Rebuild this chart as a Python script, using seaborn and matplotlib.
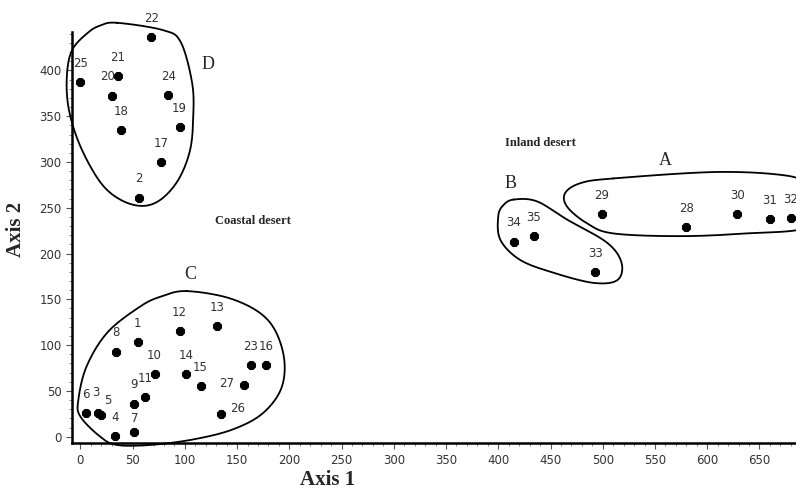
import numpy as np
import pandas as pd
import matplotlib
matplotlib.use("Agg")
import matplotlib.pyplot as plt
from matplotlib.ticker import MultipleLocator
import seaborn as sns

# site scores on the two ordination axes
site_ids = [str(i) for i in range(1, 36)]
axis1 = [55, 56, 17, 33, 20, 5, 51, 34, 51, 71, 62, 95, 131, 101, 115, 178, 77, 39,
         95, 30, 36, 68, 163, 84, 0, 135, 157, 580, 499, 629, 660, 680, 493, 415, 434]
axis2 = [103, 261, 26, 1, 24, 26, 5, 93, 36, 68, 43, 115, 121, 68, 55, 78, 300, 335,
         338, 372, 394, 436, 78, 373, 387, 25, 56, 229, 243, 243, 238, 239, 180, 213, 219]

df = pd.DataFrame({"id": site_ids, "Axis 1": axis1, "Axis 2": axis2})

# hand drawn group outlines (data coords)
outline_D = ([35, 79, 96, 107, 108, 105, 94, 77, 59, 38, 19, 0, -11, -13, -8, 7, 19],
             [452, 444, 431, 386, 349, 313, 281, 259, 252, 259, 278, 317, 357, 393, 422, 441, 449])
outline_C = ([102, 146, 179, 194, 193, 175, 146, 108, 67, 35, 19, 0, -2, 6, 26, 57, 77],
             [159, 150, 128, 92, 55, 26, 8, -3, -9, -9, 0, 22, 40, 77, 114, 142, 153])
outline_B = ([415, 437, 466, 504, 518, 514, 491, 453, 421, 402, 400, 405],
             [259, 257, 237, 212, 190, 171, 168, 179, 193, 215, 241, 253])
outline_A = ([510, 606, 670, 694, 706, 694, 638, 574, 510, 485, 466, 464, 479],
             [282, 289, 286, 277, 253, 228, 222, 219, 222, 233, 251, 266, 277])

# label offsets in points (default is straight above)
label_offset = {"3": (-1.5, 15), "5": (4.5, 10), "7": (1, 9.5), "26": (11.5, 4),
                "27": (-13, 1.5), "20": (-3, 14)}


def smooth_closed(xs, ys, n=30):
    p = np.column_stack([xs, ys]).astype(float)
    k = len(p)
    out = []
    for i in range(k):
        p0, p1, p2, p3 = p[i - 1], p[i], p[(i + 1) % k], p[(i + 2) % k]
        for t in np.linspace(0, 1, n, endpoint=False):
            t2, t3 = t * t, t * t * t
            out.append(0.5 * (2 * p1 + (-p0 + p2) * t + (2 * p0 - 5 * p1 + 4 * p2 - p3) * t2
                              + (-p0 + 3 * p1 - 3 * p2 + p3) * t3))
    out.append(out[0])
    out = np.array(out)
    return out[:, 0], out[:, 1]


sns.set_style("white")
plt.rcParams["font.family"] = ["DejaVu Sans"]

fig = plt.figure(figsize=(7.96, 4.99), dpi=100)
ax = fig.add_axes([0.0905, 0.112, 0.9095, 0.824])

sns.scatterplot(data=df, x="Axis 1", y="Axis 2", color="black", s=50, marker="8",
                edgecolor="black", linewidth=0, ax=ax, clip_on=False, zorder=3)

for sid, x, y in zip(site_ids, axis1, axis2):
    dx, dy = label_offset.get(sid, (0, 13.5))
    ax.annotate(sid, (x, y), xytext=(dx, dy), textcoords="offset points",
                ha="center", va="center", fontsize=8.5, color="#333333",
                annotation_clip=False)

for xs, ys in [outline_A, outline_B, outline_C, outline_D]:
    sx, sy = smooth_closed(xs, ys)
    ax.plot(sx, sy, color="black", lw=1.3, clip_on=False)

serif = "Liberation Serif"
for letter, x, y in [("A", 560, 302), ("B", 412, 276), ("C", 105, 177), ("D", 122, 406)]:
    ax.text(x, y, letter, family=serif, fontsize=13, ha="center", va="center")
ax.text(165, 235, "Coastal desert", family=serif, fontsize=9, fontweight="bold",
        ha="center", va="center")
ax.text(440, 321, "Inland desert", family=serif, fontsize=9, fontweight="bold",
        ha="center", va="center")

ax.set_xlim(-8, 685)
ax.set_ylim(-7, 442)
ax.xaxis.set_major_locator(MultipleLocator(50))
ax.xaxis.set_minor_locator(MultipleLocator(10))
ax.yaxis.set_major_locator(MultipleLocator(50))
ax.yaxis.set_minor_locator(MultipleLocator(10))
ax.tick_params(which="major", direction="out", length=4, width=0.8, color="#555555",
               labelsize=8.5, labelcolor="#333333", bottom=True, left=True)
ax.tick_params(which="minor", direction="out", length=2, width=0.6, color="#777777",
               bottom=True, left=True)
ax.set_xlabel("")
ax.set_ylabel("")
for side in ["top", "right"]:
    ax.spines[side].set_visible(False)
for side in ["left", "bottom"]:
    ax.spines[side].set_color("black")
    ax.spines[side].set_linewidth(1.8)

fig.text(0.411, 0.018, "Axis 1", family=serif, fontsize=15, fontweight="bold",
         ha="center", va="bottom")
fig.text(0.008, 0.54, "Axis 2", family=serif, fontsize=15, fontweight="bold",
         ha="left", va="center", rotation=90)

fig.savefig("out.png", dpi=100)
